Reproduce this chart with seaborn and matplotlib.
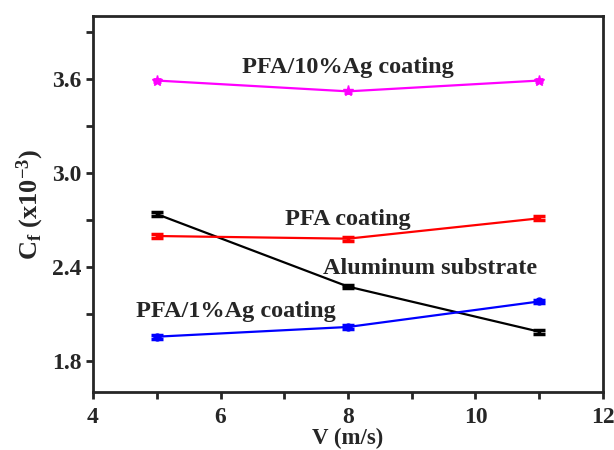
import matplotlib
matplotlib.use("Agg")
import matplotlib.pyplot as plt
import matplotlib.ticker as ticker
import pandas as pd
import seaborn as sns

# Dados
velocity = [5, 8, 11]
aluminum = [2.736, 2.273, 1.985]
pfa = [2.596, 2.579, 2.709]
pfa_1ag = [1.953, 2.015, 2.178]
pfa_10ag = [3.589, 3.520, 3.589]
err = [0.012, 0.012, 0.012]

series_names = ["Aluminum substrate", "PFA coating", "PFA/1%Ag coating", "PFA/10%Ag coating"]
series_colors = ["black", "red", "blue", "magenta"]


def main():
    sns.set_style("ticks")
    plt.rcParams["font.family"] = ["Liberation Serif", "DejaVu Serif"]
    plt.rcParams["font.weight"] = "bold"
    plt.rcParams["mathtext.fontset"] = "custom"
    plt.rcParams["mathtext.rm"] = "Liberation Serif:bold"
    plt.rcParams["mathtext.it"] = "Liberation Serif:bold"

    df = pd.DataFrame({
        "V": velocity * 4,
        "Cf": aluminum + pfa + pfa_1ag + pfa_10ag,
        "serie": [n for n in series_names for _ in velocity],
    })

    fig = plt.figure(figsize=(6.14, 4.5), dpi=100)
    ax = fig.add_axes([0.1515, 0.129, 0.8305, 0.835])

    sns.lineplot(data=df, x="V", y="Cf", hue="serie", palette=series_colors,
                 hue_order=series_names, linewidth=1.6, legend=False, ax=ax)

    # Barras de erro
    for vals, c in zip([aluminum, pfa, pfa_1ag], series_colors[:3]):
        ax.errorbar(velocity, vals, yerr=err, fmt="none", ecolor=c,
                    elinewidth=2.5, capsize=4, capthick=2.5)
    ax.errorbar(velocity, pfa_1ag, yerr=[0.006] * 3, fmt="o", color="blue",
                markersize=5, elinewidth=0)
    ax.errorbar(velocity, pfa_10ag, yerr=[0.01] * 3, fmt="*", color="magenta",
                markersize=8, elinewidth=2.5, capsize=3, capthick=2)

    # Textos
    kw = dict(fontsize=17.5, fontweight="bold", ha="center", va="center")
    ax.text(8.0, 3.675, "PFA/10%Ag coating", **kw)
    ax.text(8.0, 2.70, "PFA coating", **kw)
    ax.text(9.29, 2.39, "Aluminum substrate", **kw)
    ax.text(6.24, 2.116, "PFA/1%Ag coating", **kw)

    ax.set_xlim(4, 12)
    ax.set_ylim(1.6, 4.0)
    ax.xaxis.set_major_locator(ticker.MultipleLocator(2))
    ax.xaxis.set_minor_locator(ticker.MultipleLocator(1))
    ax.yaxis.set_major_locator(ticker.FixedLocator([1.8, 2.4, 3.0, 3.6]))
    ax.yaxis.set_minor_locator(ticker.FixedLocator([2.1, 2.7, 3.3, 3.9]))
    ax.yaxis.set_major_formatter(ticker.FormatStrFormatter("%.1f"))

    ax.tick_params(which="both", direction="out", length=5, width=2, labelsize=17)
    ax.tick_params(axis="x", pad=6)
    for lab in ax.get_xticklabels() + ax.get_yticklabels():
        lab.set_fontweight("bold")
    for sp in ax.spines.values():
        sp.set_linewidth(2)
        sp.set_visible(True)

    ax.set_xlabel("V (m/s)", fontsize=16.5, fontweight="bold", labelpad=0)
    ax.set_ylabel(r"C$_\mathrm{f}$ (x10$^{\mathrm{-3}}$)", fontsize=19,
                  fontweight="bold", labelpad=4)

    fig.savefig("out.png", dpi=100)


if __name__ == "__main__":
    main()
